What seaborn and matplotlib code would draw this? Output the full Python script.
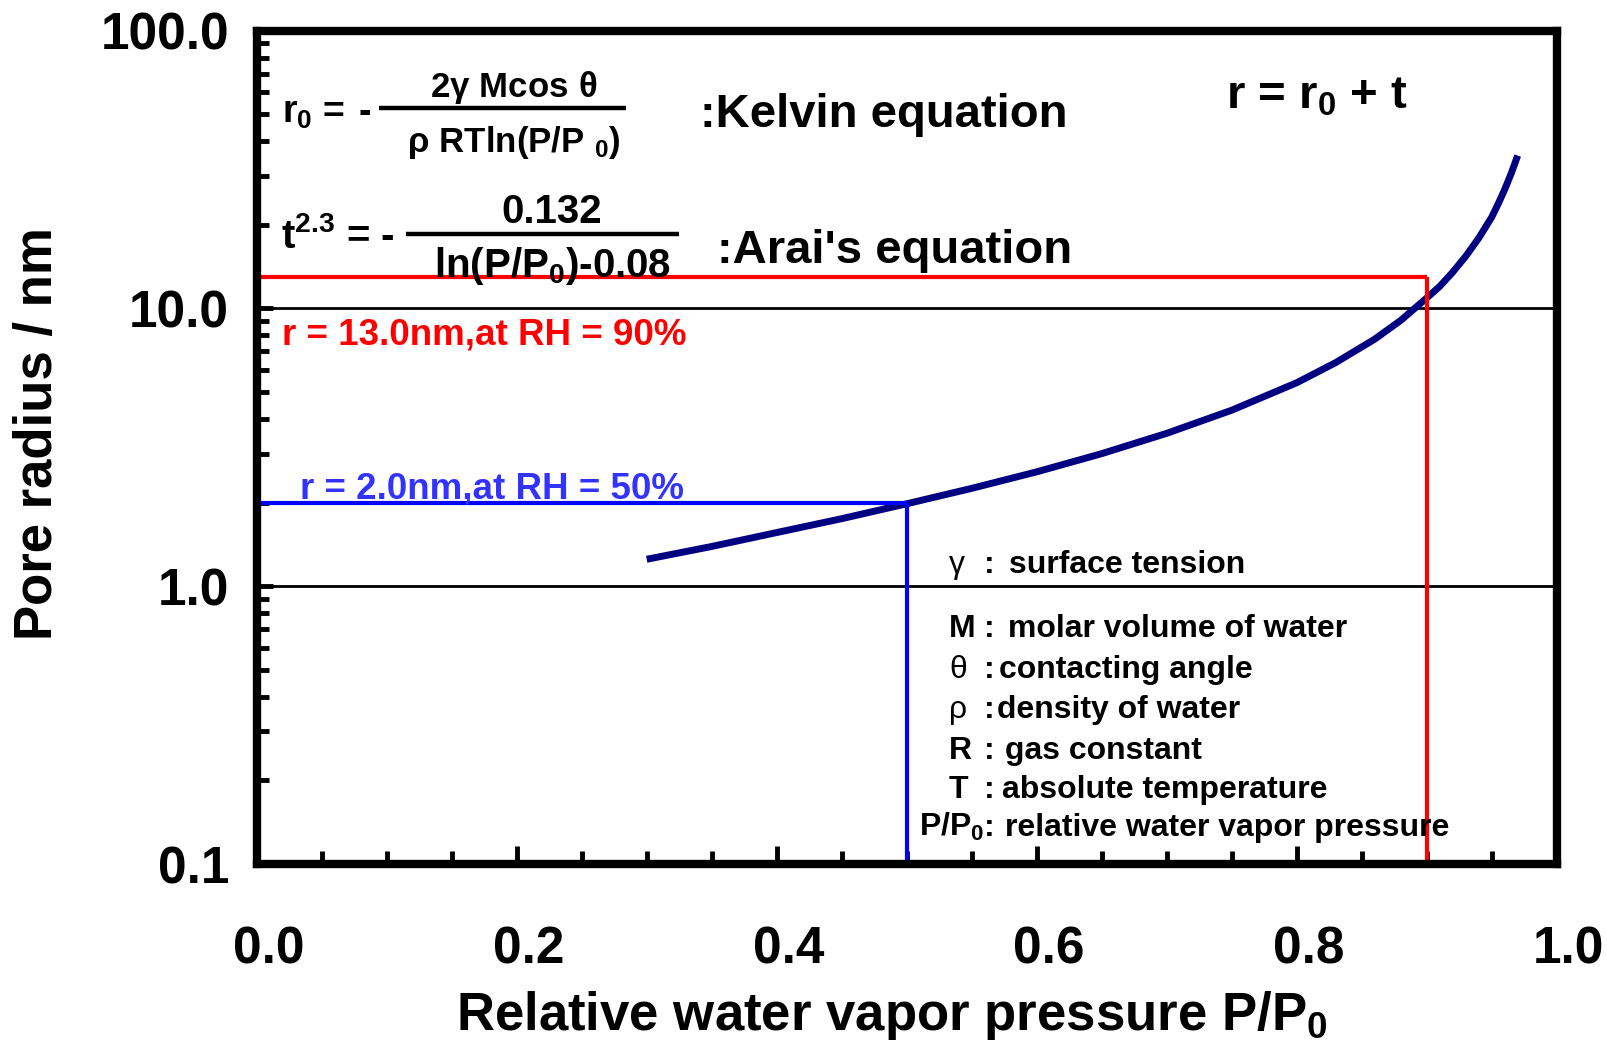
import matplotlib
matplotlib.use("Agg")
import matplotlib.pyplot as plt
import matplotlib.ticker as mticker
from matplotlib.transforms import ScaledTranslation
import pandas as pd
import seaborn as sns

# Pore radius r = r0 + t against relative water vapour pressure
pressure = [0.30, 0.35, 0.40, 0.45, 0.50, 0.55, 0.60, 0.65, 0.70, 0.75,
            0.80, 0.83, 0.86, 0.88, 0.90, 0.91, 0.92, 0.93, 0.94, 0.95,
            0.955, 0.96, 0.965, 0.97]
radius = [1.25, 1.39, 1.56, 1.75, 1.98, 2.25, 2.58, 3.00, 3.55, 4.30,
          5.40, 6.38, 7.75, 9.05, 10.9, 12.0, 13.5, 15.4, 17.9, 21.3,
          23.8, 26.8, 30.6, 35.5]

# Read-off guides: relative humidity and the matching pore radius
rh_marks = [0.5, 0.9]
r_marks = [2.0, 13.0]
mark_colors = ["#0000FF", "#FF0000"]
mark_text_colors = ["#3333FF", "#FF0000"]
mark_labels = ["r = 2.0nm,at RH = 50%", "r = 13.0nm,at RH = 90%"]

x_ticks = [0.0, 0.2, 0.4, 0.6, 0.8, 1.0]
y_ticks = [0.1, 1.0, 10.0, 100.0]

symbols = ["γ", "M", "θ", "ρ", "R", "T", "P/P$_0$"]
meanings = ["surface tension", "molar volume of water", "contacting angle",
            "density of water", "gas constant", "absolute temperature",
            "relative water vapor pressure"]

sns.set_theme(style="white")
plt.rcParams["font.family"] = ["Liberation Sans", "DejaVu Sans"]
plt.rcParams["font.weight"] = "bold"
plt.rcParams["text.color"] = "black"
plt.rcParams["axes.labelcolor"] = "black"
plt.rcParams["xtick.color"] = "black"
plt.rcParams["ytick.color"] = "black"
plt.rcParams["mathtext.fontset"] = "custom"
plt.rcParams["mathtext.rm"] = "Liberation Sans"
plt.rcParams["mathtext.bf"] = "Liberation Sans:bold"
plt.rcParams["mathtext.it"] = "Liberation Sans:bold"
plt.rcParams["mathtext.default"] = "bf"

W, H = 1608, 1040
L, R, T, B = 256.7, 1556.7, 30.6, 864.0

fig = plt.figure(figsize=(W / 100, H / 100), dpi=100)
ax = fig.add_axes([L / W, 1 - B / H, (R - L) / W, (B - T) / H])


def pos(px, py):
    """Pixel position in the figure -> axes fraction."""
    return (px - L) / (R - L), (B - py) / (B - T)


df = pd.DataFrame({"p": pressure, "r": radius})
sns.lineplot(data=df, x="p", y="r", ax=ax, color="#000080", lw=5,
             solid_capstyle="butt", solid_joinstyle="round", zorder=2.4)

for rh, rv, c in zip(rh_marks, r_marks, mark_colors):
    ax.plot([0.0, rh], [rv, rv], color=c, lw=3, zorder=2.6, solid_capstyle="butt")
    ax.plot([rh, rh], [y_ticks[0], rv], color=c, lw=3, zorder=2.6, solid_capstyle="butt")

ax.set_yscale("log")
ax.set_xlim(0, 1)
ax.set_ylim(y_ticks[0], y_ticks[-1])
ax.set_xticks(x_ticks)
ax.set_xticklabels([f"{v:.1f}" for v in x_ticks])
ax.set_yticks(y_ticks)
ax.set_yticklabels([f"{v:.1f}" for v in y_ticks])
ax.xaxis.set_minor_locator(mticker.MultipleLocator(0.05))
ax.yaxis.set_minor_locator(mticker.LogLocator(base=10, subs=range(2, 10)))
ax.yaxis.set_minor_formatter(mticker.NullFormatter())

ax.grid(axis="y", which="major", color="black", lw=2, zorder=1)
ax.grid(axis="x", visible=False)
ax.set_axisbelow(True)
for s in ax.spines.values():
    s.set_visible(True)
    s.set_color("black")
    s.set_linewidth(6)
    s.set_zorder(5)

ax.tick_params(axis="both", which="both", direction="in", top=False, right=False,
               bottom=True, left=True, color="black", labelcolor="black",
               width=3.5, labelsize=37)
ax.tick_params(axis="x", which="major", length=13, pad=44)
ax.tick_params(axis="x", which="minor", length=9.5)
ax.tick_params(axis="y", which="major", length=11.5, pad=20)
ax.tick_params(axis="y", which="minor", length=8.5)
for lbl in ax.get_xticklabels():
    lbl.set_fontweight("bold")
    lbl.set_transform(lbl.get_transform() + ScaledTranslation(0.12, 0, fig.dpi_scale_trans))
for lbl in ax.get_yticklabels():
    lbl.set_fontweight("bold")

ax.set_xlabel("Relative water vapor pressure P/P$_0$", fontsize=38, fontweight="bold")
ax.xaxis.set_label_coords(*pos(892, 1030))
ax.xaxis.label.set_va("baseline")
ax.set_ylabel("Pore radius / nm", fontsize=38, fontweight="bold")
ax.yaxis.set_label_coords(*pos(38, 434))
ax.yaxis.label.set_va("center")

tkw = dict(transform=ax.transAxes, fontweight="bold", color="black", zorder=3)

# Kelvin equation
ax.text(*pos(282, 123), "r$_0$", fontsize=27, va="baseline", ha="left", **tkw)
ax.text(*pos(322, 123), "=", fontsize=27, va="baseline", ha="left", **tkw)
ax.text(*pos(359, 123), "-", fontsize=27, va="baseline", ha="left", **tkw)
ax.text(*pos(514, 97), r"$2\mathrm{\gamma}\ Mcos\ \mathrm{\theta}$", fontsize=25,
        va="baseline", ha="center", **tkw)
ax.plot([pos(379, 0)[0], pos(626, 0)[0]], [pos(0, 108)[1]] * 2, color="black",
        lw=3.2, transform=ax.transAxes, solid_capstyle="butt")
ax.text(*pos(514, 152), r"$\mathrm{\rho}\ RTln(P/P\ _{0})$", fontsize=25,
        va="baseline", ha="center", **tkw)
ax.text(*pos(700, 127), ":Kelvin equation", fontsize=34, va="baseline", ha="left", **tkw)

# Arai's equation
ax.text(*pos(281, 248), "t$^{2.3}$ = -", fontsize=29, va="baseline", ha="left", **tkw)
ax.text(*pos(552, 223), "0.132", fontsize=29, va="baseline", ha="center", **tkw)
ax.plot([pos(406, 0)[0], pos(679, 0)[0]], [pos(0, 234)[1]] * 2, color="black",
        lw=3.2, transform=ax.transAxes, solid_capstyle="butt")
ax.text(*pos(553, 277), "ln(P/P$_0$)-0.08", fontsize=29, va="baseline", ha="center", **tkw)
ax.text(*pos(717, 263), ":Arai's equation", fontsize=34, va="baseline", ha="left", **tkw)

ax.text(*pos(1226, 108), "r = r$_0$ + t", fontsize=34, va="baseline", ha="left", **tkw)

# Guide labels
for lab, c, (px, py) in zip(mark_labels, mark_text_colors, [(300, 498), (282, 345)]):
    ax.text(*pos(px, py), lab, fontsize=26.5, va="baseline", ha="left",
            transform=ax.transAxes, fontweight="bold", color=c, zorder=3)

# Symbol list
row_y = [573, 637, 678, 718, 759, 798, 836]
sym_x = [949, 949, 949, 949, 949, 949, 919]
txt_x = [1009, 1008, 999, 997, 1005, 1002, 1005]
for sym, desc, py, sx, tx in zip(symbols, meanings, row_y, sym_x, txt_x):
    greek = sym in ("γ", "θ", "ρ")
    ax.text(*pos(sx, py), sym, fontsize=23, va="baseline", ha="left",
            transform=ax.transAxes, color="black", zorder=3,
            fontweight="normal" if greek else "bold")
    ax.text(*pos(984, py), ":", fontsize=23, va="baseline", ha="left", **tkw)
    ax.text(*pos(tx, py), desc, fontsize=23, va="baseline", ha="left", **tkw)

fig.savefig("out.png", dpi=100)
